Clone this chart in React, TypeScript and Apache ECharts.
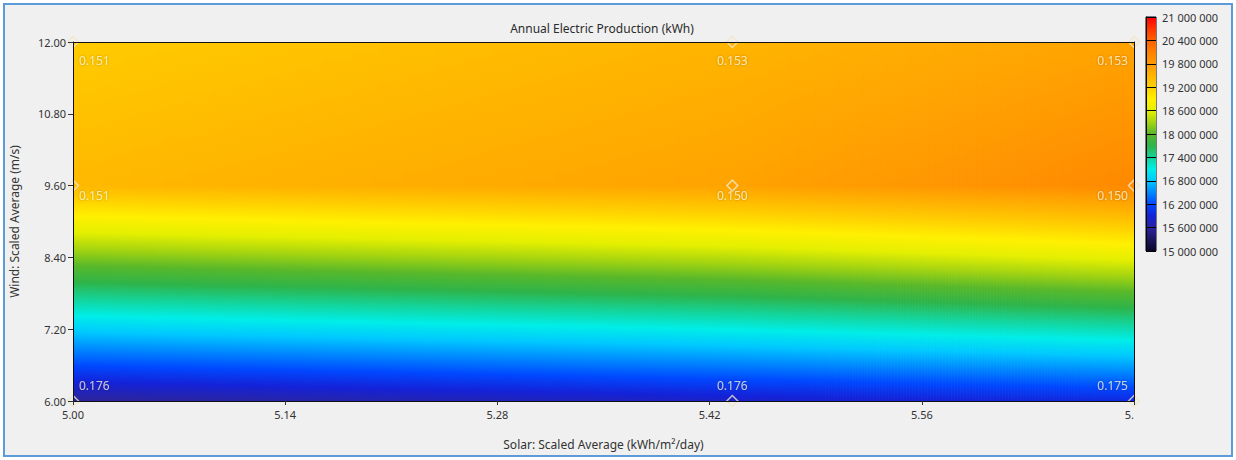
import React, { useEffect, useRef } from "react";
import * as echarts from "echarts";

// ---- data ----
const SOLAR = [5.0, 5.435, 5.7];
const WIND = [6.0, 9.6, 12.0];
// Annual electric production (kWh), one array per wind value, across SOLAR
const PROD_WIND_6 = [15550000, 15800000, 15950000];
const PROD_WIND_9_6 = [19450000, 19700000, 20000000];
const PROD_WIND_12 = [19250000, 19500000, 19700000];
const PRODUCTION = [PROD_WIND_6, PROD_WIND_9_6, PROD_WIND_12];
// value labels shown at the sensitivity points
const LABELS_WIND_6 = ["0.176", "0.176", "0.175"];
const LABELS_WIND_9_6 = ["0.151", "0.150", "0.150"];
const LABELS_WIND_12 = ["0.151", "0.153", "0.153"];
const POINT_LABELS = [LABELS_WIND_6, LABELS_WIND_9_6, LABELS_WIND_12];

const X_TICKS = [5.0, 5.14, 5.28, 5.42, 5.56, 5.7];
const X_TICK_LABELS = ["5.00", "5.14", "5.28", "5.42", "5.56", "5."];
const Y_TICKS = [6.0, 7.2, 8.4, 9.6, 10.8, 12.0];
const Y_TICK_LABELS = ["6.00", "7.20", "8.40", "9.60", "10.80", "12.00"];
const COLOR_MIN = 15000000;
const COLOR_MAX = 21000000;
const COLOR_STEP = 600000;

// colour scale, evenly spaced from COLOR_MIN to COLOR_MAX
const PALETTE = [
  "#0c0626", "#1c1660", "#2a24a0", "#1422d8", "#0048ff", "#0088ff", "#00c8ff",
  "#00eee8", "#14d49a", "#2eb44a", "#58b82a", "#a4d410", "#e4ef00", "#fff000",
  "#ffd000", "#ffb400", "#ff9a00", "#ff8000", "#ff6200", "#ff3400", "#ff0000",
];

const FONT = '"Noto Sans", "Open Sans", sans-serif';

function hexToRgb(h: string) {
  return [parseInt(h.slice(1, 3), 16), parseInt(h.slice(3, 5), 16), parseInt(h.slice(5, 7), 16)];
}
const PAL_RGB = PALETTE.map(hexToRgb);
const BREAKS = PALETTE.map((_, k) => COLOR_MIN + (k * (COLOR_MAX - COLOR_MIN)) / (PALETTE.length - 1));

function colorAt(v: number) {
  const n = PALETTE.length - 1;
  let t = ((v - COLOR_MIN) / (COLOR_MAX - COLOR_MIN)) * n;
  t = Math.max(0, Math.min(n, t));
  const k = Math.min(n - 1, Math.floor(t));
  const f = t - k;
  const a = PAL_RGB[k], b = PAL_RGB[k + 1];
  const c = [0, 1, 2].map((q) => Math.round(a[q] + (b[q] - a[q]) * f));
  return `rgb(${c[0]},${c[1]},${c[2]})`;
}

// gradient from vTop (offset 0) to vBottom (offset 1)
function gradientStops(vTop: number, vBottom: number) {
  const stops: { offset: number; color: string }[] = [{ offset: 0, color: colorAt(vTop) }];
  const lo = Math.min(vTop, vBottom), hi = Math.max(vTop, vBottom);
  const inner: { offset: number; color: string }[] = [];
  if (hi > lo) {
    BREAKS.forEach((b) => {
      if (b > lo && b < hi) inner.push({ offset: (b - vTop) / (vBottom - vTop), color: colorAt(b) });
    });
  }
  inner.sort((p, q) => p.offset - q.offset);
  stops.push(...inner);
  stops.push({ offset: 1, color: colorAt(vBottom) });
  return stops;
}

// cells between neighbouring sensitivity points
const cellData: number[][] = [];
for (let j = 0; j < WIND.length - 1; j++) {
  for (let i = 0; i < SOLAR.length - 1; i++) {
    cellData.push([
      SOLAR[i], SOLAR[i + 1], WIND[j], WIND[j + 1],
      PRODUCTION[j][i], PRODUCTION[j][i + 1], PRODUCTION[j + 1][i], PRODUCTION[j + 1][i + 1],
    ]);
  }
}

const pointData: any[] = [];
WIND.forEach((w, j) => {
  SOLAR.forEach((s, i) => {
    const align = i === 0 ? "left" : i === SOLAR.length - 1 ? "right" : "center";
    const dx = i === 0 ? 6 : i === SOLAR.length - 1 ? -6 : 0;
    const dy = j === 0 ? -16 : j === WIND.length - 1 ? 18 : 10;
    pointData.push({
      value: [s, w],
      label: { formatter: POINT_LABELS[j][i], align, offset: [dx, dy] },
    });
  });
});

function fmtSpaces(v: number) {
  return Math.round(v).toString().replace(/\B(?=(\d{3})+(?!\d))/g, " ");
}

function buildOption(): any {
  return {
    animation: false,
    textStyle: { fontFamily: FONT },
    graphic: [
      {
        type: "rect",
        z: -100,
        silent: true,
        shape: { x: 4, y: 4, width: 1228, height: 452 },
        style: { fill: "#f0f0f0", stroke: "#5b9bd8", lineWidth: 2 },
      },
      {
        type: "text",
        x: 602,
        y: 28,
        style: {
          text: "Annual Electric Production (kWh)",
          textAlign: "center",
          textVerticalAlign: "middle",
          font: `12px ${FONT}`,
          fill: "#2b2b2b",
        },
      },
    ],
    grid: [
      { left: 69, top: 42, width: 1065, height: 359, show: false },
      { left: 1146, top: 17, width: 10, height: 234, show: true, borderColor: "#000", borderWidth: 1 },
    ],
    xAxis: [
      {
        type: "value",
        gridIndex: 0,
        min: X_TICKS[0],
        max: X_TICKS[X_TICKS.length - 1],
        z: 10,
        name: "Solar: Scaled Average (kWh/m²/day)",
        nameLocation: "middle",
        nameGap: 37,
        nameTextStyle: { fontSize: 12, color: "#333" },
        axisLine: { show: true, lineStyle: { color: "#111" } },
        axisTick: { show: true, length: 4, lineStyle: { color: "#333" }, customValues: X_TICKS },
        axisLabel: {
          customValues: X_TICKS,
          fontSize: 11,
          color: "#333",
          margin: 8,
          alignMaxLabel: "right",
          formatter: (v: number) => {
            const k = X_TICKS.findIndex((t) => Math.abs(t - v) < 1e-6);
            return k >= 0 ? X_TICK_LABELS[k] : "";
          },
        },
        splitLine: { show: false },
      },
      { type: "value", gridIndex: 1, min: 0, max: 1, show: false },
      {
        type: "value",
        gridIndex: 0,
        position: "top",
        min: X_TICKS[0],
        max: X_TICKS[X_TICKS.length - 1],
        z: 10,
        axisLine: { show: true, onZero: false, lineStyle: { color: "#111" } },
        axisTick: { show: false },
        axisLabel: { show: false },
        splitLine: { show: false },
      },
    ],
    yAxis: [
      {
        type: "value",
        gridIndex: 0,
        min: Y_TICKS[0],
        max: Y_TICKS[Y_TICKS.length - 1],
        z: 10,
        name: "Wind: Scaled Average (m/s)",
        nameLocation: "middle",
        nameGap: 53,
        nameTextStyle: { fontSize: 12, color: "#333" },
        axisLine: { show: true, lineStyle: { color: "#111" } },
        axisTick: { show: true, length: 5, lineStyle: { color: "#333" }, customValues: Y_TICKS },
        axisLabel: {
          customValues: Y_TICKS,
          fontSize: 11,
          color: "#333",
          margin: 7,
          formatter: (v: number) => {
            const k = Y_TICKS.findIndex((t) => Math.abs(t - v) < 1e-6);
            return k >= 0 ? Y_TICK_LABELS[k] : "";
          },
        },
        splitLine: { show: false },
      },
      {
        type: "value",
        gridIndex: 1,
        position: "right",
        min: COLOR_MIN,
        max: COLOR_MAX,
        interval: COLOR_STEP,
        z: 10,
        axisLine: { show: true, lineStyle: { color: "#000" } },
        axisTick: { show: true, length: 4, lineStyle: { color: "#000" } },
        axisLabel: { fontSize: 11, color: "#333", margin: 6, formatter: (v: number) => fmtSpaces(v) },
        splitLine: { show: true, lineStyle: { color: "#000", width: 1 } },
      },
      {
        type: "value",
        gridIndex: 0,
        position: "right",
        min: Y_TICKS[0],
        max: Y_TICKS[Y_TICKS.length - 1],
        z: 10,
        axisLine: { show: true, onZero: false, lineStyle: { color: "#111" } },
        axisTick: { show: false },
        axisLabel: { show: false },
        splitLine: { show: false },
      },
    ],
    series: [
      {
        type: "custom",
        xAxisIndex: 0,
        yAxisIndex: 0,
        clip: true,
        silent: true,
        z: 1,
        encode: { x: [0, 1], y: [2, 3] },
        data: cellData,
        renderItem: (params: any, api: any) => {
          const x0 = api.value(0), x1 = api.value(1), y0 = api.value(2), y1 = api.value(3);
          const v00 = api.value(4), v10 = api.value(5), v01 = api.value(6), v11 = api.value(7);
          const pa = api.coord([x0, y0]);
          const pb = api.coord([x1, y1]);
          const left = pa[0], right = pb[0], bottom = pa[1], top = pb[1];
          const n = Math.max(1, Math.ceil((right - left) / 3));
          const w = (right - left) / n;
          const children: any[] = [];
          for (let k = 0; k < n; k++) {
            const t = (k + 0.5) / n;
            const vb = v00 + (v10 - v00) * t;
            const vt = v01 + (v11 - v01) * t;
            children.push({
              type: "rect",
              shape: { x: left + k * w, y: top, width: w + 0.7, height: bottom - top + 0.5 },
              style: { fill: new echarts.graphic.LinearGradient(0, 0, 0, 1, gradientStops(vt, vb)) },
            });
          }
          return { type: "group", children };
        },
      },
      {
        type: "scatter",
        xAxisIndex: 0,
        yAxisIndex: 0,
        clip: true,
        z: 5,
        symbol: "diamond",
        symbolSize: 11,
        itemStyle: { color: "rgba(0,0,0,0)", borderColor: "#efe6c6", borderWidth: 1.5 },
        label: {
          show: true,
          position: "inside",
          fontSize: 12,
          color: "rgba(255,248,225,0.92)",
          textShadowColor: "rgba(60,40,0,0.45)",
          textShadowBlur: 2,
        },
        data: pointData,
      },
      {
        type: "custom",
        xAxisIndex: 1,
        yAxisIndex: 1,
        silent: true,
        z: 1,
        encode: { x: [0, 1], y: [2, 3] },
        data: [[0, 1, COLOR_MIN, COLOR_MAX]],
        renderItem: (params: any, api: any) => {
          const pa = api.coord([api.value(0), api.value(2)]);
          const pb = api.coord([api.value(1), api.value(3)]);
          return {
            type: "rect",
            shape: { x: pa[0], y: pb[1], width: pb[0] - pa[0], height: pa[1] - pb[1] },
            style: { fill: new echarts.graphic.LinearGradient(0, 0, 0, 1, gradientStops(api.value(3), api.value(2))) },
          };
        },
      },
    ],
  };
}

export default function App() {
  const ref = useRef<HTMLDivElement>(null);
  useEffect(() => {
    document.body.style.margin = "0";
    document.body.style.background = "#ffffff";
    const chart = echarts.init(ref.current as HTMLDivElement, null, { renderer: "svg" });
    chart.setOption(buildOption());
    return () => chart.dispose();
  }, []);
  return <div ref={ref} style={{ width: 1236, height: 460 }} />;
}
